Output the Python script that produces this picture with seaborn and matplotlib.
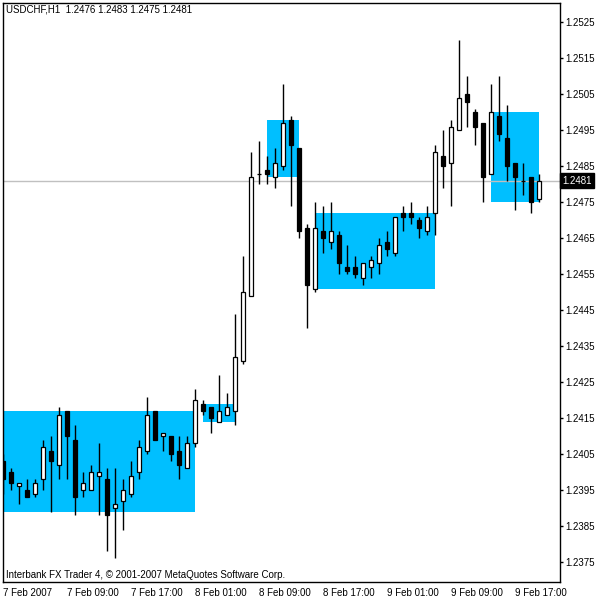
import numpy as np
import pandas as pd
import matplotlib
matplotlib.use("Agg")
import matplotlib.pyplot as plt
import seaborn as sns

# USDCHF H1 candles, 7 Feb 2007 01:00 .. 9 Feb 2007 20:00
open_ = [1.2403, 1.2400, 1.2396, 1.2395, 1.2394, 1.2398, 1.2406, 1.2402, 1.2417, 1.2409,
         1.2395, 1.2395, 1.2399, 1.2398, 1.2390, 1.2392, 1.2394, 1.2400, 1.2406, 1.2417,
         1.2410, 1.2410, 1.2406, 1.2401, 1.2408, 1.2419, 1.2418, 1.2414, 1.2416, 1.2417,
         1.2431, 1.2449, 1.2483, 1.2484, 1.2482, 1.2485, 1.2498, 1.2490, 1.2468, 1.2451,
         1.2467, 1.2464, 1.2466, 1.2457, 1.2457, 1.2454, 1.2457, 1.2458, 1.2464, 1.2461,
         1.2472, 1.2472, 1.2470, 1.2467, 1.2472, 1.2488, 1.2486, 1.2495, 1.2505, 1.2500,
         1.2497, 1.2483, 1.2499, 1.2493, 1.2486, 1.2481, 1.2482, 1.2476]
high = [1.2405, 1.2401, 1.2397, 1.2398, 1.2398, 1.2409, 1.2410, 1.2418, 1.2417, 1.2413,
        1.2400, 1.2402, 1.2408, 1.2401, 1.2401, 1.2398, 1.2403, 1.2409, 1.2421, 1.2417,
        1.2411, 1.2410, 1.2410, 1.2410, 1.2423, 1.2420, 1.2418, 1.2427, 1.2422, 1.2444,
        1.2460, 1.2489, 1.2492, 1.2488, 1.2490, 1.2508, 1.2499, 1.2490, 1.2469, 1.2475,
        1.2474, 1.2475, 1.2467, 1.2463, 1.2460, 1.2458, 1.2460, 1.2465, 1.2467, 1.2471,
        1.2474, 1.2475, 1.2471, 1.2474, 1.2491, 1.2495, 1.2498, 1.2520, 1.2510, 1.2501,
        1.2497, 1.2508, 1.2510, 1.2502, 1.2486, 1.2486, 1.2482, 1.2483]
low = [1.2394, 1.2395, 1.2391, 1.2393, 1.2393, 1.2395, 1.2389, 1.2398, 1.2398, 1.2388,
       1.2393, 1.2395, 1.2388, 1.2378, 1.2376, 1.2384, 1.2393, 1.2398, 1.2405, 1.2409,
       1.2406, 1.2403, 1.2398, 1.2401, 1.2407, 1.2416, 1.2411, 1.2414, 1.2416, 1.2413,
       1.2430, 1.2449, 1.2480, 1.2480, 1.2479, 1.2484, 1.2474, 1.2465, 1.2440, 1.2450,
       1.2461, 1.2462, 1.2455, 1.2455, 1.2454, 1.2452, 1.2454, 1.2455, 1.2460, 1.2460,
       1.2467, 1.2469, 1.2465, 1.2466, 1.2466, 1.2479, 1.2474, 1.2495, 1.2496, 1.2491,
       1.2475, 1.2483, 1.2492, 1.2481, 1.2473, 1.2477, 1.2472, 1.2475]
close = [1.2398, 1.2397, 1.2397, 1.2393, 1.2397, 1.2407, 1.2403, 1.2416, 1.2410, 1.2393,
         1.2397, 1.2400, 1.2400, 1.2388, 1.2391, 1.2395, 1.2399, 1.2407, 1.2416, 1.2409,
         1.2411, 1.2405, 1.2402, 1.2408, 1.2420, 1.2417, 1.2415, 1.2417, 1.2418, 1.2432,
         1.2450, 1.2482, 1.2483, 1.2483, 1.2486, 1.2497, 1.2491, 1.2467, 1.2452, 1.2468,
         1.2465, 1.2467, 1.2458, 1.2456, 1.2455, 1.2458, 1.2459, 1.2463, 1.2462, 1.2471,
         1.2471, 1.2471, 1.2468, 1.2471, 1.2489, 1.2485, 1.2496, 1.2504, 1.2503, 1.2496,
         1.2482, 1.2500, 1.2494, 1.2485, 1.2482, 1.2481, 1.2475, 1.2481]

# session boxes (candle index range and price range)
box_start = [0, 25, 33, 39, 61]
box_end = [24, 29, 37, 54, 67]
box_top = [1.2417, 1.2419, 1.2498, 1.2472, 1.2500]
box_bottom = [1.2389, 1.2414, 1.2482, 1.2451, 1.2475]

tick_pos = [0, 8, 16, 24, 32, 40, 48, 56, 64]
tick_labels = ["7 Feb 2007", "7 Feb 09:00", "7 Feb 17:00", "8 Feb 01:00", "8 Feb 09:00",
               "8 Feb 17:00", "9 Feb 01:00", "9 Feb 09:00", "9 Feb 17:00"]
price_ticks = [1.2375, 1.2385, 1.2395, 1.2405, 1.2415, 1.2425, 1.2435, 1.2445,
               1.2455, 1.2465, 1.2475, 1.2485, 1.2495, 1.2505, 1.2515, 1.2525]
last_price = 1.2481

df = pd.DataFrame({"open": open_, "high": high, "low": low, "close": close})
df["x"] = np.arange(len(df))
df["bull"] = df["close"] >= df["open"]

sns.set_theme(style="white")
plt.rcParams["font.family"] = ["Liberation Sans", "DejaVu Sans"]
plt.rcParams["font.size"] = 7

fig = plt.figure(figsize=(6, 6), dpi=100)
ax = fig.add_axes([3 / 600, 18 / 600, 557 / 600, 579 / 600])

# boxes
for s, e, t, b in zip(box_start, box_end, box_top, box_bottom):
    ax.bar(s, t - b, width=e - s, bottom=b, align="edge", color="#00BFFF",
           linewidth=0, zorder=1)

# current price line
ax.axhline(last_price, color="#C0C0C0", lw=1, zorder=2)

# wicks and bodies
ax.vlines(df["x"], df["low"], df["high"], color="black", lw=1, zorder=3)
body_low = df[["open", "close"]].min(axis=1)
body_h = (df["close"] - df["open"]).abs()
ax.bar(df["x"], body_h, bottom=body_low, width=0.55,
       color=np.where(df["bull"], "white", "black"), edgecolor="black",
       linewidth=0.9, zorder=4)

ax.set_xlim(0, 69.6)
ax.set_ylim(1.236944, 1.253042)

ax.yaxis.tick_right()
ax.set_yticks(price_ticks)
ax.set_yticklabels([f"{p:.4f}" for p in price_ticks])
ax.set_xticks(tick_pos)
ax.set_xticklabels(tick_labels, ha="left")
ax.tick_params(axis="both", direction="out", length=2.5, width=1, color="black",
               labelsize=7, pad=1.5, labelcolor="black")
ax.tick_params(axis="x", pad=2)
for side in ["left", "right", "top", "bottom"]:
    ax.spines[side].set_visible(True)
    ax.spines[side].set_color("black")
    ax.spines[side].set_linewidth(1)
ax.grid(False)
ax.set_facecolor("white")

ax.text(1.004, last_price, f"{last_price:.4f}", transform=ax.get_yaxis_transform(),
        va="center", ha="left", color="white", fontsize=7, zorder=10, clip_on=False,
        bbox=dict(boxstyle="square,pad=0.25", facecolor="black", edgecolor="black"))

fig.text(6 / 600, 1 - 4 / 600, "USDCHF,H1  1.2476 1.2483 1.2475 1.2481",
         va="top", ha="left", fontsize=7, color="black")
fig.text(6 / 600, 1 - 580 / 600,
         "Interbank FX Trader 4, \u00a9 2001-2007 MetaQuotes Software Corp.",
         va="bottom", ha="left", fontsize=7, color="black")

fig.savefig("out.png", dpi=100, facecolor="white")
